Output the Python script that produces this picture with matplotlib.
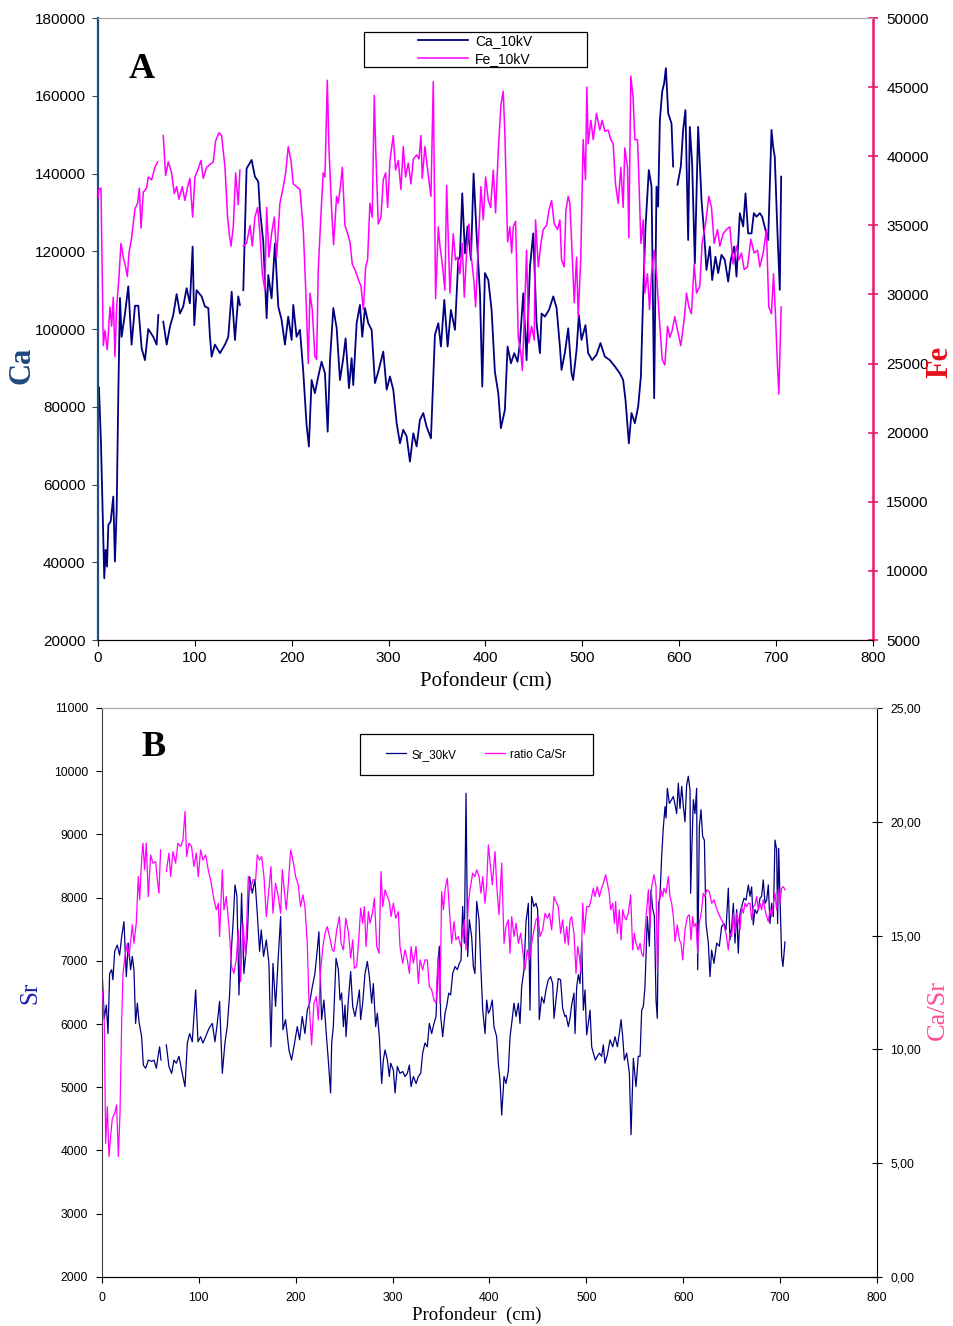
import numpy as np
import matplotlib
matplotlib.use("Agg")
import matplotlib.pyplot as plt
from matplotlib.patches import Rectangle
from matplotlib.lines import Line2D
from matplotlib.ticker import FuncFormatter

nan = np.nan

# ---- panel A : Ca and Fe (10 kV), values in thousands of counts ----
ca_depth = [0, 1, 3.1, 5.5, 6.5, 7.9, 9.3, 10.7, 13.1, 15.8,
            17.5, 19.3, 21, 22.7, 24.4, 27.9, 31.3, 34.7, 38.2, 41.6,
            45.1, 48.5, 51.9, 57.1, 60.5, 62.3, 63, 67.4, 70.9, 74.3,
            77.7, 81.2, 84.6, 88, 91.5, 94.9, 97.7, 99.4, 101.8, 107,
            110.4, 113.9, 115.6, 117.3, 120.7, 125.9, 131.1, 134.5, 138, 141.4,
            144.8, 146.5, 147.5, 150, 153.4, 158.6, 162, 165.5, 167.2, 170.6,
            174.1, 175.8, 179.2, 182.7, 186.1, 189.5, 193, 196.4, 199.9, 201.6,
            205, 208.5, 211.9, 215.3, 217.7, 220.5, 223.9, 227.4, 230.8, 234.3,
            237.1, 239.5, 242.9, 246.4, 249.8, 253.2, 255.6, 259.1, 261.8, 263.5,
            267, 270.4, 272.8, 275.6, 279, 282.5, 285.9, 289.3, 294.5, 298,
            301.4, 304.8, 308.3, 311.7, 315.1, 318.6, 322, 325.5, 328.9, 332.3,
            335.8, 339.2, 343.7, 347.8, 351.3, 354, 357.5, 360.9, 364.3, 368.5,
            371.9, 373.6, 376, 378.8, 381.5, 385, 387.7, 390.8, 394.3, 396.7,
            399.4, 402.9, 406.3, 409.7, 413.2, 415.9, 420, 422.8, 426.3, 429.7,
            433.1, 435.5, 439, 442.4, 445.9, 449.3, 452.7, 456.2, 457.9, 461.3,
            465.5, 470, 473.4, 476.8, 478.5, 481.9, 485.4, 488.8, 490.5, 494,
            496.4, 499.1, 503.2, 506, 510.1, 514.6, 518.7, 523.2, 528.4, 533.5,
            538.7, 542.1, 544.5, 548, 550.7, 554.2, 557.6, 560.4, 562.8, 565.2,
            568.6, 571.4, 574.1, 576.5, 578.2, 580, 582.4, 584.4, 586.2, 588.6,
            592, 593.7, 595, 598.2, 601.6, 604, 606.4, 609.2, 610.9, 613.3,
            616.1, 619.5, 623, 625.7, 628.1, 631.6, 634, 637.4, 640.2, 643.6,
            647, 650.5, 653.2, 656.7, 659.1, 662.5, 666, 668.4, 671.1, 674.6,
            677, 679.7, 683.2, 685.6, 689, 691.8, 695.2, 696.9, 698.6, 701.4,
            703.8, 705.2]
ca_k = [84, 85, 70.6, 45.8, 35.9, 43.2, 38.9, 49.6, 50.5, 56.9,
        40.2, 53.5, 83.5, 108, 98, 104, 111, 96, 106, 106,
        95, 92, 100, 98, 96, 103.6, nan, 101.9, 96, 100.6,
        103.6, 109, 104, 105.8, 110.5, 106.6, 121.2, 101, 110, 108.4,
        105.8, 105.4, 98, 92.9, 96, 93.8, 96, 98, 109.6, 97.2,
        108.4, 106.2, nan, 110, 141.3, 143.5, 139.2, 137.9, 130.6, 122.5,
        102.8, 113.9, 107.9, 122, 105.8, 102.4, 96, 103.2, 97.2, 106.2,
        98, 99.8, 89, 75.4, 69.8, 86.9, 83.5, 87.8, 91.6, 88.6,
        73.6, 92, 105.4, 100.2, 86.9, 92.5, 97.6, 84.8, 92.5, 85.6,
        101.5, 106.2, 98, 105.4, 101.5, 99.8, 86.1, 89, 94.2, 84.4,
        87.8, 84.4, 75.8, 70.6, 74.1, 72.4, 65.9, 73.2, 69.8, 76.6,
        78.4, 74.9, 71.9, 98.5, 101.5, 95.5, 107.5, 95.5, 104.9, 99.8,
        117.8, 118.6, 134.9, 119.5, 126.4, 117.8, 140, 124.6, 109.2, 85.2,
        114.4, 112.6, 104.9, 89, 83.5, 74.5, 79.2, 95.5, 91.2, 93.8,
        91.6, 96.4, 109.2, 92, 116, 124.6, 101.5, 93.8, 104, 103.2,
        104.9, 108.4, 105.4, 95.5, 89.5, 93.8, 100.2, 88.6, 86.9, 94.6,
        103.6, 97.2, 101, 93.8, 92, 93.4, 96.4, 92.9, 92, 90.4,
        88.6, 86.9, 81.8, 70.6, 78.4, 75.8, 80.1, 87.8, 109.2, 126.4,
        140.9, 136.6, 82.2, 136.6, 131.5, 153.8, 161.1, 163.2, 167.1, 155.5,
        152.9, 141.8, nan, 137.1, 141.8, 151.2, 156.3, 122.9, 152, 142.6,
        116.9, 152, 133.2, 124.6, 115.2, 121.2, 112.6, 118.6, 114.4, 119.1,
        117.8, 112.2, 117.8, 121.2, 113.5, 129.8, 126.4, 134.9, 124.6, 124.6,
        129.8, 128.9, 129.8, 128.9, 125.5, 122.9, 151.2, 146.9, 144.3, 124.6,
        110.1, 139.2]

fe_depth = [0, 1, 3.1, 5.5, 7.2, 9.6, 12.4, 14.1, 15.8, 17.5,
            19.3, 21.7, 23.7, 26.1, 28.5, 30.3, 32, 34.7, 38.2, 40.9,
            42.7, 44.4, 46.8, 50.2, 51.9, 55.4, 58.8, 61.6, 63.5, 67.4,
            69.8, 72.6, 76, 78.8, 81.2, 83.6, 87, 89.8, 92.5, 94.9,
            97.7, 100.1, 103.5, 106.3, 108.7, 112.1, 115.6, 119, 121.4, 124.9,
            127.6, 131.1, 133.8, 135.5, 137.3, 139.7, 142.1, 144.8, 146.5, 147.5,
            150, 153.4, 156.9, 159.3, 162, 164.8, 167.2, 169.6, 172.3, 174.1,
            176.5, 179.2, 182, 184.4, 187.8, 191.3, 193.7, 196.4, 199.2, 201.6,
            205, 208.5, 211.9, 214.3, 217.1, 218.8, 221.2, 223.9, 225.7, 227.4,
            230.1, 232.5, 234.3, 236.7, 238.4, 241.2, 243.2, 246.3, 248, 250.1,
            252.2, 254.9, 257.7, 260.1, 262.5, 265.3, 268.7, 271.5, 273.9, 276.3,
            278.3, 280.7, 283.1, 285.2, 286.6, 289.3, 292.1, 294.5, 296.9, 299,
            301.4, 304.8, 307.2, 310, 312.7, 315.1, 317.5, 320.3, 323.1, 325.5,
            328.9, 331.3, 333.4, 334.7, 337.5, 340.3, 343.7, 346.1, 348.5, 351.3,
            353, 355.4, 358.1, 359.9, 363.3, 366.7, 369.1, 371.2, 373.6, 376,
            378.1, 380.5, 382.9, 385.7, 388.1, 389.8, 392.5, 395.3, 397.7, 400.1,
            402.9, 405.3, 408, 410.4, 413.2, 415.9, 418.3, 420.1, 422.8, 425.2,
            427, 428.7, 431.1, 433.8, 436.6, 438, 440, 442.4, 444.8, 447.6,
            450.3, 451.7, 454.5, 457.2, 459.6, 463.1, 465.5, 468.2, 471, 474.4,
            476.8, 478.5, 481.2, 483, 485.4, 487.1, 488.8, 491.6, 494, 495.7,
            498.4, 500.8, 503.2, 504.6, 506, 508.8, 511.2, 514.6, 518, 520.4,
            523.2, 526.6, 529.4, 531.8, 534.2, 537, 539.7, 542.1, 543.8, 546.6,
            548, 550, 552.4, 554.2, 556.9, 558.3, 560.4, 562.8, 564.5, 567.2,
            569.3, 571.4, 574.1, 576.5, 580, 582.4, 585.1, 587.9, 590.3, 592.7,
            595.4, 598.2, 601.6, 605.1, 607.5, 609.9, 612.6, 615.4, 617.8, 621.2,
            623.6, 627.1, 630.5, 633.3, 636, 639.5, 641.9, 645.3, 648.8, 652.2,
            655.6, 659.1, 661.5, 664.2, 667, 670.4, 673.9, 677.3, 680.8, 683.2,
            686.6, 690, 692.4, 695.2, 697.3, 699.3, 701.4, 702.8, 705.2]
fe_k = [37, 37.6, 37.7, 26.3, 27.4, 26, 29.1, 27.7, 29.8, 25.5,
        29.1, 31.3, 33.7, 32.7, 32, 31.3, 33, 34.1, 36.2, 36.6,
        37.7, 34.8, 37.4, 37.7, 38.5, 38.3, 39.2, 39.6, nan, 41.5,
        38.6, 39.6, 38.8, 37.3, 37.8, 36.9, 37.8, 36.8, 37.8, 38.4,
        35.6, 38.5, 39.1, 39.7, 38.4, 39.2, 39.4, 39.6, 41.1, 41.7,
        41.5, 39.2, 35.6, 34.4, 33.5, 34.9, 38.8, 36.5, 39, nan,
        33.5, 33.7, 35, 33.5, 35.6, 36.3, 34.4, 31.5, 30.3, 36.3,
        32.7, 34.4, 35.6, 32.7, 36.6, 37.8, 38.8, 40.7, 39.7, 38,
        37.8, 37.6, 34.7, 30.6, 25, 30.1, 28.9, 25.5, 25.3, 31.8,
        35.7, 38.8, 38.5, 45.5, 40.6, 36.1, 33.6, 37.1, 36.6, 37.7,
        39.2, 35, 34.4, 33.8, 32.2, 31.8, 31.1, 30.6, 28.9, 32,
        32.5, 36.6, 35.6, 44.4, 40.7, 35.1, 35.6, 38.3, 38.8, 36.3,
        39.7, 41.5, 39, 39.7, 37.6, 40.7, 38.5, 39.5, 38, 39.8,
        40.1, 39.8, 41.5, 38.4, 40.7, 39, 37.1, 45.4, 29.7, 34.9,
        33.5, 32.2, 30.3, 37.9, 30.1, 34.4, 32.5, 32.7, 31.5, 33.7,
        29.8, 33, 35.1, 32.5, 30.9, 29.1, 33.5, 37.8, 35.4, 38.5,
        36.8, 36.3, 39, 35.9, 40.4, 43.7, 44.7, 41.4, 33.8, 34.9,
        33, 34.9, 35.3, 26.9, 25.7, 24.5, 28.2, 33.2, 26.5, 27.7,
        26.7, 35.4, 32, 33.7, 34.7, 35, 36.1, 36.8, 35.1, 34.7,
        35.4, 32.5, 32, 36.1, 37.1, 36.6, 34, 29.4, 32.7, 28.4,
        32.7, 41.2, 38.3, 45, 40.9, 42.6, 41.2, 43.1, 41.9, 42.6,
        41.8, 41.9, 41.2, 40.9, 38, 36.6, 39.2, 36.3, 40.6, 39.2,
        34.1, 45.8, 44.2, 41.2, 41.2, 38.5, 33.7, 35.4, 30.1, 31.5,
        28.9, 31.5, 33.2, 31.5, 27.7, 25.3, 24.9, 27.7, 26.9, 27.4,
        28.4, 27.4, 26.3, 28.2, 30.1, 29.1, 28.6, 32.2, 30.1, 30.6,
        33.7, 35.1, 37.1, 36.3, 33.7, 34.7, 33.5, 34.4, 34.7, 34.9,
        32.2, 33.5, 32.5, 33, 31.8, 32, 34, 33, 33.2, 32,
        33, 34.7, 29.1, 28.6, 31.5, 28.6, 24.8, 22.8, 29.1]

# ---- panel B : Sr (30 kV) and Ca/Sr ratio ----
sr_depth = [0.5, 2.4, 4.5, 6.2, 7.9, 10, 11.3, 13.1, 15.8, 18.2,
            20.3, 22.7, 25.1, 27.2, 29.6, 31.3, 33, 34.7, 36.5, 38.2,
            40.9, 42.7, 45.1, 47.8, 51.3, 53.7, 56.1, 58.1, 59.5, 60.9,
            63, 66.4, 69.1, 71.9, 74.3, 76.7, 79.5, 82.2, 85.7, 88.1,
            90.5, 93.2, 96.7, 99.1, 101.8, 104.2, 107, 110.4, 113.9, 116.6,
            119, 121.4, 124.2, 126.9, 129.3, 131.7, 133.8, 135.5, 137.3, 139.3,
            141.4, 144.1, 146.5, 150, 152.4, 155.1, 157.9, 160.3, 162.7, 164.4,
            166.8, 169.6, 172.3, 174.4, 176.5, 179.2, 182, 184.4, 186.8, 189.5,
            193, 195.7, 198.1, 201.6, 204, 206.7, 209.5, 211.9, 214.3, 217.1,
            219.8, 222.2, 223.9, 226.7, 229.1, 231.5, 233.6, 236, 237.1, 238.8,
            241.6, 244, 245.7, 247.4, 249.2, 250.9, 251.9, 254.3, 256.7, 258.8,
            261.2, 263.6, 265.7, 267, 269.1, 271.5, 273.9, 276, 278.4, 280.1,
            282.5, 284.2, 286.3, 288.7, 290.4, 292.2, 294.6, 296.6, 298, 300.8,
            302.5, 304.9, 307.6, 310.4, 312.8, 315.2, 317.3, 319, 321.4, 324.2,
            326.6, 329, 331, 333.4, 335.8, 337.9, 340.3, 342.7, 344.8, 346.9,
            348.2, 349.6, 351.7, 354.1, 355.8, 357.9, 359.9, 362, 364.4, 366.8,
            368.9, 370.6, 372.3, 374, 375.8, 377.5, 379.2, 381.6, 383.3, 385,
            386.8, 389.2, 390.9, 393, 395.4, 397.1, 398.8, 400.5, 402.9, 404.6,
            407.4, 409.1, 410.8, 412.6, 415, 417, 419.4, 421.2, 422.9, 425.3,
            427.4, 429.8, 431.5, 433.2, 435.6, 437.7, 440.1, 441.8, 443.5, 445.9,
            448, 449.7, 451.4, 453.8, 456.2, 458.3, 460.7, 463.1, 465.2, 466.6,
            468.6, 471, 473.4, 475.5, 477.9, 479, 481.4, 483.1, 484.8, 487.2,
            488.3, 490, 491.7, 493.4, 495.2, 496.9, 498.6, 500.3, 502, 503.8,
            505.5, 507.2, 509.3, 511.3, 513.4, 515.8, 517.5, 519.2, 521.6, 524.4,
            527.2, 529.6, 532, 534, 535.8, 537.5, 539.2, 541.6, 544.4, 546.1,
            548.5, 551.2, 553.6, 555.4, 557.1, 558.8, 560.5, 562.9, 565, 566.7,
            568.4, 570.2, 571.9, 573.2, 574.6, 576, 577.7, 579.4, 581.2, 582.2,
            583.6, 585.6, 588, 589.8, 591.5, 593.2, 594.9, 596.6, 598.4, 600.1,
            601.8, 603.5, 605.2, 607, 607.6, 608.7, 610.4, 612.1, 613.8, 614.9,
            616.6, 618.3, 620, 621.8, 623.5, 625.9, 627.6, 629.3, 631.7, 634.5,
            637.2, 639.6, 642, 644.1, 646.5, 648.2, 650, 651.7, 653.4, 655.1,
            656.8, 658.6, 660.3, 662.7, 664.8, 667.2, 668.9, 670.6, 672.3, 674,
            675.8, 677.5, 679.2, 680.9, 682.6, 684.4, 686.1, 687.8, 689.5, 691.2,
            693, 694.7, 696.4, 697.4, 698.5, 699.8, 701.6, 702.9, 705]
sr_val = [6700, 6090, 6300, 5850, 6800, 6860, 6700, 7150, 7250, 7090,
          7380, 7620, 6750, 7280, 6860, 7070, 6860, 6010, 6330, 6040,
          5800, 5350, 5300, 5430, 5410, 5430, 5300, 5510, 5640, 5430,
          nan, 5670, 5330, 5220, 5430, 5380, 5490, 5270, 5010, 5700,
          5850, 5720, 6540, 5720, 5800, 5700, 5800, 5930, 6010, 5720,
          6010, 6360, 5220, 5700, 5960, 6460, 7230, 7650, 8200, 8020,
          6460, 8070, 6800, 7380, 8330, 8070, 8280, 7750, 7150, 7490,
          7070, 7330, 6960, 5640, 6960, 6280, 7070, 7700, 5910, 6070,
          5590, 5430, 5640, 5960, 5750, 6120, 5850, 6220, 6330, 6590,
          6800, 7170, 7460, 6070, 6380, 5850, 5430, 4910, 5700, 5960,
          7040, 6860, 6380, 6490, 5960, 6300, 5800, 6380, 6830, 6280,
          6120, 6330, 6540, 6070, 6330, 6800, 6990, 6750, 6330, 6640,
          5960, 6170, 5800, 5060, 5430, 5590, 5430, 5170, 5380, 5270,
          4910, 5330, 5220, 5250, 5170, 5220, 5350, 5010, 5170, 5060,
          5170, 5220, 5540, 5700, 5640, 6010, 5850, 6010, 6120, 6960,
          7230, 6120, 5800, 6170, 6280, 6490, 6460, 6800, 6910, 6860,
          6960, 7010, 7860, 7280, 9650, 7070, 7650, 7380, 6910, 6800,
          7940, 7650, 6960, 6220, 5850, 6380, 6170, 6220, 6380, 5960,
          5800, 5380, 5120, 4560, 5170, 5060, 5250, 5800, 6010, 6330,
          6120, 6330, 6010, 6590, 6860, 7620, 7910, 6220, 8020, 7860,
          7910, 7810, 6070, 6430, 6330, 6540, 6700, 6750, 6640, 6090,
          6380, 6720, 6700, 6250, 6120, 6140, 5960, 6090, 6300, 6490,
          5850, 6590, 6780, 6640, 7300, 6220, 6540, 5830, 6010, 6220,
          5640, 5540, 5430, 5490, 5540, 5490, 5670, 5380, 5510, 5750,
          5640, 5800, 5640, 5850, 6070, 5800, 5430, 5540, 5220, 4250,
          5460, 5010, 5490, 5490, 6220, 6280, 6590, 7700, 7230, 8120,
          7830, 7700, 6380, 6090, 7910, 8020, 8650, 9100, 9440, 9260,
          9730, 9490, 9550, 9600, 9470, 9330, 9810, 9410, 9760, 9440,
          9200, 9780, 9920, 9700, 8070, 8700, 9550, 9330, 9730, 6860,
          9120, 9390, 8970, 8910, 7590, 7280, 6750, 7170, 6960, 7280,
          7230, 7540, 7590, 7490, 8150, 7330, 7540, 7910, 7280, 7810,
          7120, 7750, 7860, 7990, 7960, 8200, 8020, 8170, 7570, 7810,
          7750, 7810, 7990, 8020, 8280, 7910, 7960, 8200, 7590, 7910,
          7700, 8910, 8760, 7590, 8780, 8020, 7070, 6910, 7300]

ratio_depth = [0.5, 2.4, 3.8, 5.5, 7.2, 8.9, 10.7, 13.1, 15.1, 16.9,
               18.6, 20.3, 21.7, 23.7, 26.1, 27.9, 29.6, 31.3, 33, 35.4,
               37.5, 38.9, 40.9, 42.3, 44, 45.7, 47.8, 50.2, 52.6, 55.4,
               57.1, 58.8, 60.5, 63, 66.4, 69.1, 70.9, 73.3, 76, 78.4,
               81.2, 83.6, 85.7, 87.4, 89.8, 92.5, 94.9, 97.3, 99.4, 101.8,
               104.2, 107, 109.7, 112.1, 115.6, 118, 120.1, 121.4, 124.2, 125.9,
               128.3, 131.1, 133.8, 136.2, 138.6, 140.7, 143.1, 145.5, 148.3, 151,
               153.4, 155.8, 158.6, 160.3, 162.7, 164.8, 167.2, 169.6, 172.3, 174.4,
               176.5, 179.2, 182, 184.4, 186.1, 187.8, 190.2, 192.3, 194.7, 197.1,
               199.9, 202.6, 205, 207.4, 209.5, 211.9, 213.6, 216.4, 218.8, 221.2,
               223.3, 225.7, 228.1, 230.1, 232.5, 234.9, 237.7, 239.5, 242.3, 245,
               246.8, 249.2, 251.6, 254.3, 256.7, 258.8, 260.5, 262.9, 265, 267,
               269.1, 270.8, 272.6, 275, 276.7, 279.1, 281.2, 283.6, 286, 288,
               289.8, 292.2, 293.9, 296.6, 298.4, 300.8, 303.2, 305.9, 307.6, 310.4,
               312.8, 315.2, 317.3, 319, 321.4, 324.2, 326.6, 328.3, 331, 333.4,
               335.8, 337.9, 340.3, 342.7, 344.8, 346.9, 348.9, 350.6, 352.4, 354.1,
               356.5, 358.6, 361, 363.4, 365.4, 367.8, 370.2, 372.3, 374, 375.8,
               378.2, 379.9, 382.6, 385, 386.8, 389.2, 391.2, 393, 395.4, 397.1,
               398.8, 400.5, 402.9, 405.7, 407.4, 409.8, 412.6, 415, 417, 419.4,
               421.2, 422.9, 425.3, 427.4, 429.8, 432.2, 434.2, 436.6, 439, 441.1,
               443.5, 445.9, 448, 450.4, 452.1, 454.9, 457.3, 459.7, 461.8, 464.2,
               466.6, 468.6, 471, 473.4, 475.5, 477.9, 479.7, 481.4, 483.1, 484.8,
               487.2, 489.3, 491, 492.8, 494.5, 496.2, 497.9, 500.3, 503.1, 504.8,
               507.2, 508.9, 511.3, 513.4, 515.8, 517.5, 519.9, 521.6, 523.4, 525.1,
               527.2, 528.9, 530.2, 532, 534, 535.8, 537.5, 539.2, 540.9, 543.3,
               545.7, 547.8, 549.5, 551.2, 553.6, 555.4, 557.1, 558.8, 561.6, 564,
               565.7, 567.4, 569.8, 571.9, 573.2, 575.3, 577, 578.8, 580.1, 582.2,
               584.6, 586.3, 588, 589.8, 591.5, 593.9, 596, 597.7, 599.4, 601.8,
               604.2, 606.3, 608, 609.7, 611.1, 613.2, 614.9, 616.6, 619, 620.7,
               622.4, 624.2, 626.9, 629.3, 631.7, 633.8, 636.2, 638.6, 641.4, 644.1,
               646.5, 648.2, 650, 651.7, 653.4, 655.1, 656.8, 658.6, 660.3, 662,
               663.7, 665.4, 667.2, 668.9, 670.6, 672.3, 674, 675.8, 677.5, 679.2,
               680.9, 682.6, 684.4, 686.1, 687.8, 689.5, 691.2, 693, 694.7, 696.4,
               698.1, 699.8, 701.6, 703.3, 705]
ratio_val = [12.54, 11.15, 5.87, 7.48, 5.29, 6.17, 6.97, 7.19, 7.56, 5.29,
             7.19, 11.15, 13.34, 14.08, 14.66, 14.08, 14.74, 15.47, 14.66, 15.54,
             17.59, 16.57, 18.32, 19.06, 17.89, 19.06, 16.71, 18.54, 18.18, 18.25,
             17.45, 16.86, 18.76, nan, 17.81, 18.62, 17.59, 18.69, 18.18, 19.06,
             18.91, 19.2, 20.45, 18.47, 19.06, 18.91, 18.03, 18.62, 17.59, 18.76,
             18.32, 18.54, 17.89, 17.45, 16.57, 16.13, 16.42, 14.96, 17.89, 16.13,
             16.71, 15.39, 13.64, 13.34, 13.93, 15.25, 12.98, 15.54, 14.08, 17.59,
             17.01, 17.45, 17.45, 18.54, 18.32, 18.47, 17.59, 15.83, 17.01, 18.03,
             15.98, 17.3, 16.71, 15.98, 17.89, 17.15, 16.13, 17.23, 18.76, 18.32,
             17.59, 17.23, 16.27, 16.79, 16.27, 14.66, 12.17, 10.19, 12.03, 12.32,
             11.29, 13.49, 14.52, 15.1, 15.39, 14.96, 14.37, 14.3, 15.25, 15.83,
             14.66, 14.37, 15.76, 15.17, 14.01, 14.81, 13.56, 13.64, 14.81, 16.2,
             15.54, 16.27, 14.52, 16.05, 15.54, 15.98, 16.64, 14.52, 14.22, 17.81,
             16.27, 17.01, 16.79, 16.49, 15.83, 16.42, 15.76, 16.05, 14.52, 13.78,
             14.37, 13.93, 13.34, 14.52, 13.78, 14.52, 12.9, 13.93, 13.49, 13.93,
             13.93, 12.76, 12.61, 12.17, 12.03, 14.08, 12.03, 16.93, 16.13, 17.01,
             17.52, 16.13, 14.66, 15.61, 14.81, 14.96, 14.52, 15.1, 15.69, 14.37,
             16.42, 17.01, 17.74, 17.59, 17.89, 17.59, 16.86, 17.59, 16.42, 17.23,
             18.98, 18.25, 17.23, 18.69, 17.23, 15.91, 18.18, 14.66, 15.39, 15.69,
             14.22, 15.83, 14.96, 15.54, 14.66, 15.1, 14.37, 13.49, 14.37, 13.93,
             14.66, 15.25, 15.69, 15.83, 14.96, 15.25, 15.98, 15.76, 15.98, 15.25,
             16.71, 16.49, 16.27, 15.1, 15.69, 14.66, 15.39, 14.59, 15.69, 15.83,
             15.1, 13.34, 14.52, 14.08, 13.34, 16.42, 15.1, 16.27, 16.27, 16.57,
             17.08, 16.71, 17.15, 16.71, 17.08, 17.3, 17.67, 17.3, 16.93, 16.13,
             16.42, 15.54, 16.49, 15.1, 16.13, 14.81, 16.13, 15.83, 15.69, 15.98,
             16.79, 14.37, 15.1, 14.66, 14.37, 14.66, 14.22, 14.08, 15.83, 17.01,
             15.39, 17.15, 17.67, 17.15, 13.49, 16.42, 17.01, 16.71, 17.08, 16.86,
             17.59, 16.71, 16.42, 15.83, 14.74, 15.47, 14.81, 14.66, 13.93, 15.25,
             15.83, 15.91, 14.81, 15.83, 15.39, 15.54, 14.22, 15.54, 16.13, 16.86,
             16.71, 17.01, 16.93, 16.42, 16.57, 16.27, 15.98, 15.76, 15.54, 15.1,
             14.37, 15.1, 14.96, 15.98, 15.1, 15.98, 15.69, 15.25, 16.27, 15.98,
             16.42, 16.27, 16.42, 16.42, 15.69, 16.27, 16.35, 16.71, 16.13, 16.42,
             16.13, 16.57, 16.13, 15.83, 15.61, 16.13, 15.83, 16.42, 16.86, 16.13,
             17.01, 16.42, 17.08, 17.15, 17.01]

NAVY = "#000080"
MAGENTA = "#ff00ff"
SANS = "Liberation Sans"
SERIF = "Liberation Serif"


def comma2(v, pos):
    return f"{v:.2f}".replace(".", ",")


fig = plt.figure(figsize=(9.54, 13.26), dpi=100)

# ================= panel A =================
ax = fig.add_axes([0.1027, 0.5173, 0.8124, 0.4691])
ax2 = ax.twinx()
ax.plot(ca_depth, np.array(ca_k) * 1000, color=NAVY, lw=1.3)
ax2.plot(fe_depth, np.array(fe_k) * 1000, color=MAGENTA, lw=1.1)
ax.set_xlim(0, 800)
ax.set_ylim(20000, 180000)
ax2.set_ylim(5000, 50000)
ax.set_xticks(range(0, 801, 100))
ax.set_yticks(range(20000, 180001, 20000))
ax2.set_yticks(range(5000, 50001, 5000))

ax.spines["left"].set_color("#1f4e79")
ax.spines["left"].set_linewidth(1.6)
ax.spines["top"].set_color("#a6a6a6")
ax2.spines["top"].set_color("#a6a6a6")
ax.spines["right"].set_visible(False)
ax2.spines["left"].set_visible(False)
ax2.spines["right"].set_color("#e8196c")
ax2.spines["right"].set_linewidth(1.8)
ax.tick_params(axis="y", direction="out", length=4, color="#1f4e79", pad=5,
               labelsize=11)
ax.tick_params(axis="x", direction="out", length=4, pad=4, labelsize=11)
ax2.tick_params(axis="y", direction="inout", length=7, color="#e8196c",
                width=1.2, pad=6, labelsize=11)
for lab in ax.get_xticklabels() + ax.get_yticklabels() + ax2.get_yticklabels():
    lab.set_fontfamily(SANS)

ax.text(0.057, 0.917, "A", transform=ax.transAxes, ha="center", va="center",
        fontsize=26, fontweight="bold", family=SERIF)

ax2.add_patch(Rectangle((0.343, 0.921), 0.288, 0.0565, transform=ax.transAxes,
                        fill=False, edgecolor="black", lw=0.9, clip_on=False,
                        zorder=5))
hA = [Line2D([], [], color=NAVY, lw=1.3), Line2D([], [], color=MAGENTA, lw=1.1)]
ax2.legend(hA, ["Ca_10kV", "Fe_10kV"], loc="center",
           bbox_to_anchor=(0.487, 0.949), bbox_transform=ax.transAxes,
           frameon=False, prop={"family": SANS, "size": 10},
           handlelength=3.6, handletextpad=0.5, labelspacing=0.3,
           borderpad=0.1)

fig.text(22 / 954, 1 - 365 / 1326, "Ca", rotation=90, ha="center", va="center",
         fontsize=22, fontweight="bold", family=SERIF, color="#1f497d")
fig.text(940 / 954, 1 - 362 / 1326, "Fe", rotation=90, ha="center", va="center",
         fontsize=22, fontweight="bold", family=SERIF, color="#e8101a")
fig.text(486 / 954, 1 - 682 / 1326, "Pofondeur (cm)", ha="center", va="center",
         fontsize=15, family=SERIF)

# ================= panel B =================
bx = fig.add_axes([0.1069, 0.0370, 0.8124, 0.4291])
bx2 = bx.twinx()
bx.plot(sr_depth, sr_val, color=NAVY, lw=0.9)
bx2.plot(ratio_depth, ratio_val, color=MAGENTA, lw=0.9)
bx.set_xlim(0, 800)
bx.set_ylim(2000, 11000)
bx2.set_ylim(0, 25)
bx.set_xticks(range(0, 801, 100))
bx.set_yticks(range(2000, 11001, 1000))
bx2.set_yticks(range(0, 26, 5))
bx2.yaxis.set_major_formatter(FuncFormatter(comma2))

bx.spines["left"].set_color("#404040")
bx.spines["top"].set_color("#a6a6a6")
bx2.spines["top"].set_color("#a6a6a6")
bx.spines["right"].set_visible(False)
bx2.spines["left"].set_visible(False)
bx2.spines["right"].set_color("black")
bx.tick_params(axis="y", direction="out", length=4, pad=6, labelsize=8.8)
bx.tick_params(axis="x", direction="out", length=4, pad=7, labelsize=8.8)
bx2.tick_params(axis="y", direction="inout", length=7, pad=6, labelsize=8.8)
for lab in bx.get_xticklabels() + bx.get_yticklabels() + bx2.get_yticklabels():
    lab.set_fontfamily(SANS)

bx.text(0.066, 0.93, "B", transform=bx.transAxes, ha="center", va="center",
        fontsize=26, fontweight="bold", family=SERIF)

bx2.add_patch(Rectangle((0.333, 0.882), 0.301, 0.072, transform=bx.transAxes,
                        fill=False, edgecolor="black", lw=0.9, clip_on=False,
                        zorder=5))
hB = [Line2D([], [], color=NAVY, lw=0.9), Line2D([], [], color=MAGENTA, lw=0.9)]
bx2.legend(hB, ["Sr_30kV", "ratio Ca/Sr"], loc="center", ncol=2,
           bbox_to_anchor=(0.483, 0.918), bbox_transform=bx.transAxes,
           frameon=False, prop={"family": SANS, "size": 8.5},
           handlelength=1.7, handletextpad=0.45, columnspacing=2.4,
           borderpad=0.1)

fig.text(30 / 954, 1 - 993 / 1326, "Sr", rotation=90, ha="center", va="center",
         fontsize=18, family=SERIF, color="#1c1cb0")
fig.text(938 / 954, 1 - 1010 / 1326, "Ca/Sr", rotation=90, ha="center",
         va="center", fontsize=19, family=SERIF, color="#ff4d94")
fig.text(477 / 954, 1 - 1315 / 1326, "Profondeur  (cm)", ha="center",
         va="center", fontsize=13.5, family=SERIF)

fig.savefig("out.png", dpi=100)
